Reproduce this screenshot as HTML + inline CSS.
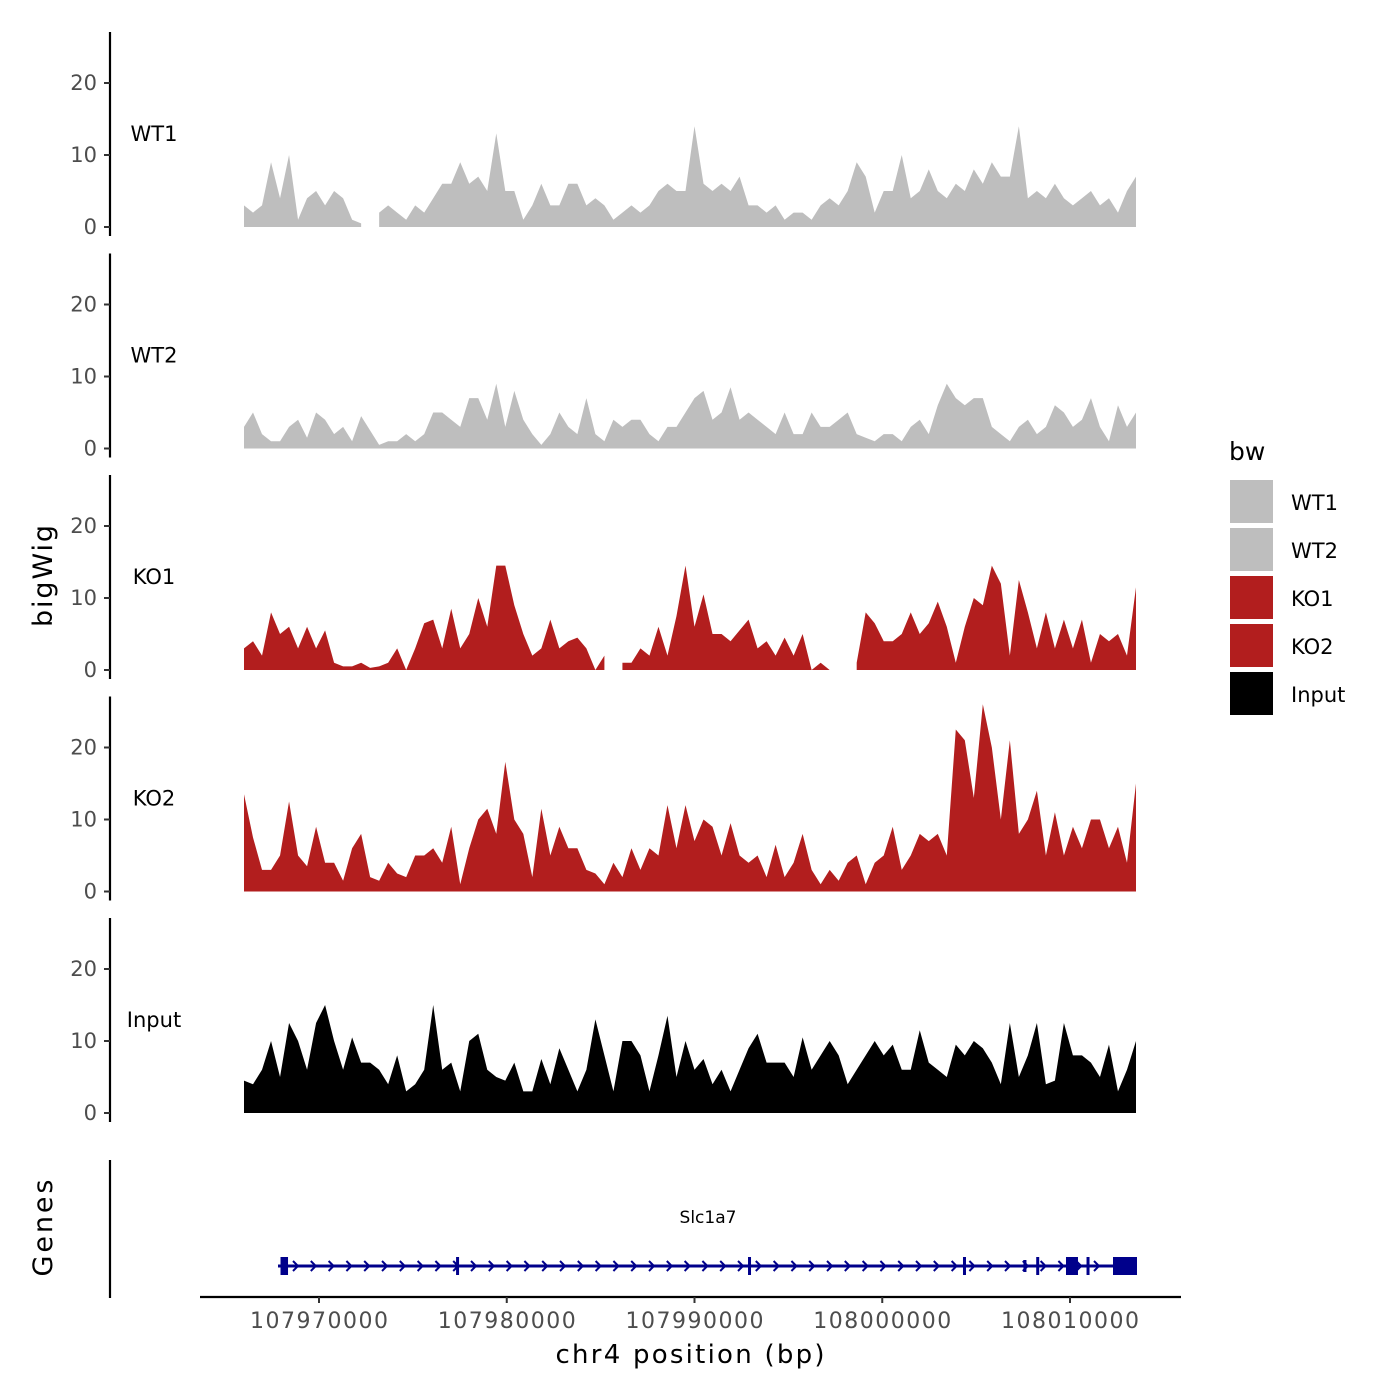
<!DOCTYPE html>
<html><head><meta charset="utf-8"><style>
html,body{margin:0;padding:0;background:#fff}
svg{display:block;font-family:"DejaVu Sans","Liberation Sans",sans-serif}
</style></head><body>
<svg id="chart" width="1400" height="1400" viewBox="0 0 1400 1400">
<g id="tracks"></g>
<g id="genes"></g>
<text x="52" y="576" font-size="27" text-anchor="middle" textLength="102" transform="rotate(-90 52 576)">bigWig</text>
<text x="52" y="1228" font-size="27" text-anchor="middle" textLength="97" transform="rotate(-90 52 1228)">Genes</text>
<text x="690" y="1363" font-size="26" text-anchor="middle" textLength="269">chr4 position (bp)</text>
<g id="legend">
<text x="1229" y="460" font-size="25">bw</text>
</g>
</svg>
<script>
const trackNames = ["WT1","WT2","KO1","KO2","Input"];
const trackColors = ["#bebebe","#bebebe","#b21e1e","#b21e1e","#000000"];
const yTicks = [0,10,20];
const xTicks = [107970000,107980000,107990000,108000000,108010000];
const xStart = 107966005, xEnd = 108013515;
const wt1 = [3,2,3,9,4,10,1,4,5,3,5,4,1,0.5,null,2,3,2,1,3,2,4,6,6,9,6,7,5,13,5,5,1,3,6,3,3,6,6,3,4,3,1,2,3,2,3,5,6,5,5,14,6,5,6,5,7,3,3,2,3,1,2,2,1,3,4,3,5,9,7,2,5,5,10,4,5,8,5,4,6,5,8,6,9,7,7,14,4,5,4,6,4,3,4,5,3,4,2,5,7];
const wt2 = [3,5,2,1,1,3,4,1.5,5,4,2,3,1,4.5,2.5,0.5,1,1,2,1,2,5,5,4,3,7,7,4,9,3,8,4,2,0.5,2,5,3,2,7,2,1,4,3,4,4,2,1,3,3,5,7,8,4,5,8.5,4,5,4,3,2,5,2,2,5,3,3,4,5,2,1.5,1,2,2,1,3,4,2,6,9,7,6,7,7,3,2,1,3,4,2,3,6,5,3,4,7,3,1,6,3,5];
const ko1 = [3,4,2,8,5,6,3,6,3,5.5,1,0.5,0.5,1,0.3,0.5,1,3,0,3,6.5,7,3,8.5,3,5,10,6,14.5,14.5,9,5,2,3,7,3,4,4.5,3,0,2,null,1,1,3,2,6,2,7.5,14.5,6,10.5,5,5,4,5.5,7,3,4,2,4.5,2,5,0,1,0,0,null,1,8,6.5,4,4,5,8,5,6.5,9.5,6,1,6,10,9,14.5,12,2,12.5,8,3,8,3,7,3,7,1,5,4,5,2,11.5];
const ko2 = [13.5,7.5,3,3,5,12.5,5,3.5,9,4,4,1.5,6,8,2,1.5,4,2.5,2,5,5,6,4,9,1,6,10,11.5,8,18,10,8,2,11.5,5,9,6,6,3,2.5,1,4,2,6,3,6,5,12,6,12,7,10,9,5,9.5,5,4,5,2,6.5,2,4,8,3,1,3,1.5,4,5,1,4,5,9,3,5,8,7,8,5,22.5,21,13,26,20,10,21,8,10,14,5,11,5,9,6,10,10,6,9,4,15];
const input = [4.5,4,6,10,5,12.5,10,6,12.5,15,10,6,10.5,7,7,6,4,8,3,4,6,15,6,7,3,10,11,6,5,4.5,7,3,3,7.5,4,9,6,3,6,13,8,3,10,10,8,3,8,13.5,5,10,6,7.5,4,6,3,6,9,11,7,7,7,5,10.5,6,8,10,8,4,6,8,10,8,9.5,6,6,11.5,7,6,5,9.5,8,10,9,7,4,12.5,5,8,12.5,4,4.5,12.5,8,8,7,5,9.5,3,6,10];
const trackData = [wt1,wt2,ko1,ko2,input];
const exonStarts = [107967950,107977300,107992850,108004300,108007520,108008200,108009786,108010880,108012290];
const exonEnds   = [107968350,107977400,107992960,108004400,108007580,108008300,108010425,108010960,108013568];
const exonTall   = [1,1,1,1,0,1,1,1,1];

const NS="http://www.w3.org/2000/svg";
const X0=244, X1=1136;
const xScale = g => X0 + (g - xStart)/(xEnd - xStart)*(X1-X0);
function mk(tag, attrs, parent){const e=document.createElementNS(NS,tag);for(const k in attrs)e.setAttribute(k,attrs[k]);parent.appendChild(e);return e;}
const tracks=document.getElementById('tracks');
trackData.forEach((vals,t)=>{
  const zeroY = 227 + t*221.5;
  const yScale = v => zeroY - v*7.2;
  const g = mk('g',{},tracks);
  
  
  const ax = mk('line',{x1:110,x2:110,y1:zeroY-195,y2:zeroY+9,stroke:'#000','stroke-width':2.2},g);
  
  
  yTicks.forEach(tv=>{
    mk('line',{x1:104,x2:110,y1:yScale(tv),y2:yScale(tv),stroke:'#333','stroke-width':2},g);
    const tl = mk('text',{x:97,y:yScale(tv)+7,'font-size':21,'text-anchor':'end',fill:'#4d4d4d'},g);
    tl.textContent=String(tv);
    
    
  });
  const lab = mk('text',{x:154,y:zeroY-86,'font-size':21,'text-anchor':'middle',fill:'#000'},g);
  lab.textContent=trackNames[t];
  
  
  const n=vals.length, step=(X1-X0)/(n-1);
  let d='', open=false, lastX=0;
  vals.forEach((v,i)=>{
    const x=X0+i*step;
    if(v===null){ if(open){d+=`L${lastX},${zeroY}Z`;open=false;} return; }
    if(!open){d+=`M${x},${zeroY}L${x},${yScale(v)}`;open=true;} else d+=`L${x},${yScale(v)}`;
    lastX=x;
  });
  if(open)d+=`L${lastX},${zeroY}Z`;
  const p=mk('path',{d:d,fill:trackColors[t],stroke:'none'},g);
  
  
});
const gp=document.getElementById('genes');
const gAx=mk('line',{x1:110,x2:110,y1:1160,y2:1298,stroke:'#000','stroke-width':2.2},gp);


const xAx=mk('line',{x1:200,x2:1181,y1:1297,y2:1297,stroke:'#000','stroke-width':2.2},gp);


xTicks.forEach(tv=>{
  const x=xScale(tv);
  mk('line',{x1:x,x2:x,y1:1297,y2:1303,stroke:'#333','stroke-width':2},gp);
  const tl=mk('text',{x:x,y:1328,'font-size':22,'text-anchor':'middle',fill:'#4d4d4d',textLength:138},gp);
  tl.textContent=String(tv);
  
  
});
const gl=mk('text',{x:708,y:1223,'font-size':17,'text-anchor':'middle',fill:'#000'},gp);
gl.textContent='Slc1a7';


const gline=mk('line',{x1:278,x2:1137,y1:1266,y2:1266,stroke:'#00008b','stroke-width':3},gp);


let chev='';
for(let x=296;x<1110;x+=17.8){chev+=`M${x-3},${1261}L${x+2},${1266}L${x-3},${1271}`;}
mk('path',{d:chev,stroke:'#00008b','stroke-width':2,fill:'none'},gp);
exonStarts.forEach((s,i)=>{
  const x0=xScale(s), x1=Math.max(xScale(exonEnds[i]),x0+3);
  const h=exonTall[i]?9:6;
  const r=mk('rect',{x:x0,y:1266-h,width:x1-x0,height:2*h,fill:'#00008b'},gp);
  
  
});
const lg=document.getElementById('legend');
trackNames.forEach((nm,i)=>{
  const y=480+i*48;
  const r=mk('rect',{x:1230,y:y,width:43,height:43,fill:trackColors[i]},lg);
  
  
  const t=mk('text',{x:1291,y:y+30,'font-size':21,fill:'#000'},lg);
  t.textContent=nm;
  
  
});
</script>
</body></html>
